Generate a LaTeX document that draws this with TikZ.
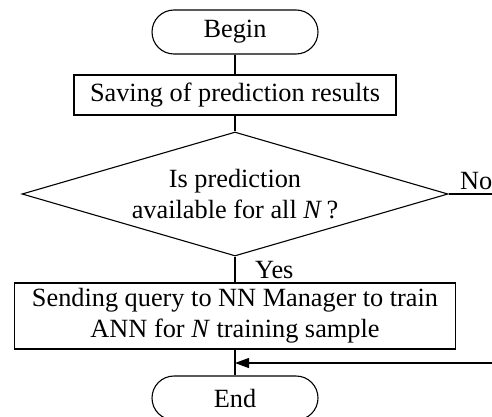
\documentclass[tikz,border=0pt]{standalone}
\usepackage{fontspec}
\setmainfont{Liberation Serif}
\usetikzlibrary{shapes.geometric,arrows.meta}
\begin{document}
\begin{tikzpicture}[x=1pt,y=1pt,
  every node/.style={font=\fontsize{26.3}{31}\selectfont, inner sep=0pt},
  term/.style={draw, line width=1.1pt, minimum width=166pt, minimum height=44pt, rounded corners=22pt},
  procbox/.style={draw, line width=1.1pt, align=center},
  decis/.style={draw, line width=1.1pt, diamond, align=center},
  conn/.style={line width=1.1pt},
  arr/.style={line width=1.1pt, -{Triangle[length=14pt,width=10pt]}}
]
\useasboundingbox (0,0) rectangle (492,-417);
\clip (0,0) rectangle (492,-417);
\node[term] (begin) at (235,-32) {Begin};
\node[procbox, minimum width=322pt, minimum height=40pt] (save) at (235,-95) {Saving of prediction results};
\node[decis, minimum width=426pt, minimum height=124pt, aspect=3.435] (dec) at (235,-194) {Is prediction\\available for all \textit{N}\,?};
\node[procbox, minimum width=441pt, minimum height=66pt] (send) at (235,-316) {Sending query to NN Manager to train\\ANN for \textit{N} training sample};
\node[term] (end) at (235,-398) {End};
\coordinate (noend) at (492,-194);
\coordinate (backin) at (492,-363);
\coordinate (join) at (235,-363);
\node[anchor=base west] (nolbl) at (460,-189) {No};
\node[anchor=base west] (yeslbl) at (255,-278) {Yes};
\draw[conn] (begin) -- (save);
\draw[conn] (save) -- (dec.north);
\draw[conn] (dec.east) -- (noend);
\draw[conn] (dec.south) -- (send.north);
\draw[conn] (send.south) -- (end.north);
\draw[arr] (backin) -- (join);
\end{tikzpicture}
\end{document}
